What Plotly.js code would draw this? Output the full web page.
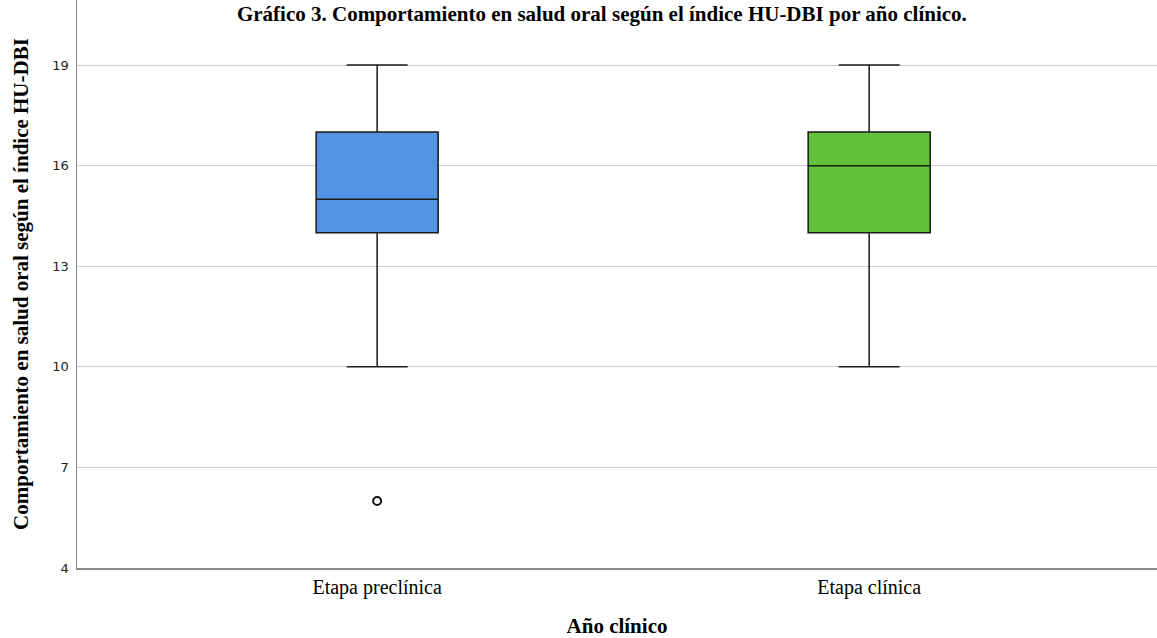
<!DOCTYPE html>
<html>
<head>
<meta charset="utf-8">
<script src="https://cdn.plot.ly/plotly-3.0.1.min.js"></script>
<style>html,body{margin:0;padding:0;background:#fff;}#chart{width:1157px;height:638px;}</style>
</head>
<body>
<div id="chart"></div>
<script>
const categories = ['Etapa preclínica', 'Etapa clínica'];
const lowerWhisker = [10, 10];
const q1 = [14, 14];
const median = [15, 16];
const q3 = [17, 17];
const upperWhisker = [19, 19];
const outlierCategory = ['Etapa preclínica'];
const outlierValues = [6];
const boxColors = ['#5393E3', '#62C33A'];
const yTicks = [4, 7, 10, 13, 16, 19];

const serif = 'Liberation Serif, Times New Roman, serif';

const traces = categories.map((c, i) => ({
  type: 'box',
  x: [c],
  q1: [q1[i]],
  median: [median[i]],
  q3: [q3[i]],
  lowerfence: [lowerWhisker[i]],
  upperfence: [upperWhisker[i]],
  fillcolor: boxColors[i],
  line: {color: '#1a1a1a', width: 1.5},
  width: 0.248,
  whiskerwidth: 0.5,
  boxpoints: false,
  showlegend: false,
  hoverinfo: 'y'
}));
traces.push({
  type: 'scatter',
  mode: 'markers',
  x: outlierCategory,
  y: outlierValues,
  marker: {symbol: 'circle-open', size: 8, color: '#111', line: {width: 2, color: '#111'}},
  showlegend: false
});

const layout = {
  width: 1157, height: 638,
  margin: {l: 77, r: 0, t: 0, b: 70},
  paper_bgcolor: '#fff', plot_bgcolor: '#fff',
  boxmode: 'overlay',
  title: {
    text: '<b>Gráfico 3. Comportamiento en salud oral según el índice HU-DBI por año clínico.</b>',
    font: {family: serif, size: 21, color: '#000'},
    xref: 'paper', x: 0.486, xanchor: 'center',
    yref: 'container', y: 0.99, yanchor: 'top'
  },
  xaxis: {
    type: 'category',
    categoryorder: 'array', categoryarray: categories,
    range: [-0.61, 1.585],
    showgrid: false, zeroline: false,
    showline: true, linecolor: '#8a8a8a', linewidth: 1.5,
    ticks: '', tickfont: {family: serif, size: 20, color: '#000'},
    title: {text: '<b>Año clínico</b>', font: {family: serif, size: 21, color: '#000'}, standoff: 22}
  },
  yaxis: {
    range: [4, 20.94],
    tickvals: yTicks,
    showgrid: true, gridcolor: '#cfcfcf', gridwidth: 1,
    zeroline: false,
    showline: true, linecolor: '#8a8a8a', linewidth: 1.5,
    ticks: '', tickfont: {family: 'DejaVu Sans, sans-serif', size: 13, color: '#222'},
    ticklabelstandoff: 4,
    title: {text: '<b>Comportamiento en salud oral según el índice HU-DBI</b>', font: {family: serif, size: 21, color: '#000'}, standoff: 18}
  }
};
Plotly.newPlot('chart', traces, layout, {displayModeBar: false, staticPlot: true});
</script>
</body>
</html>
